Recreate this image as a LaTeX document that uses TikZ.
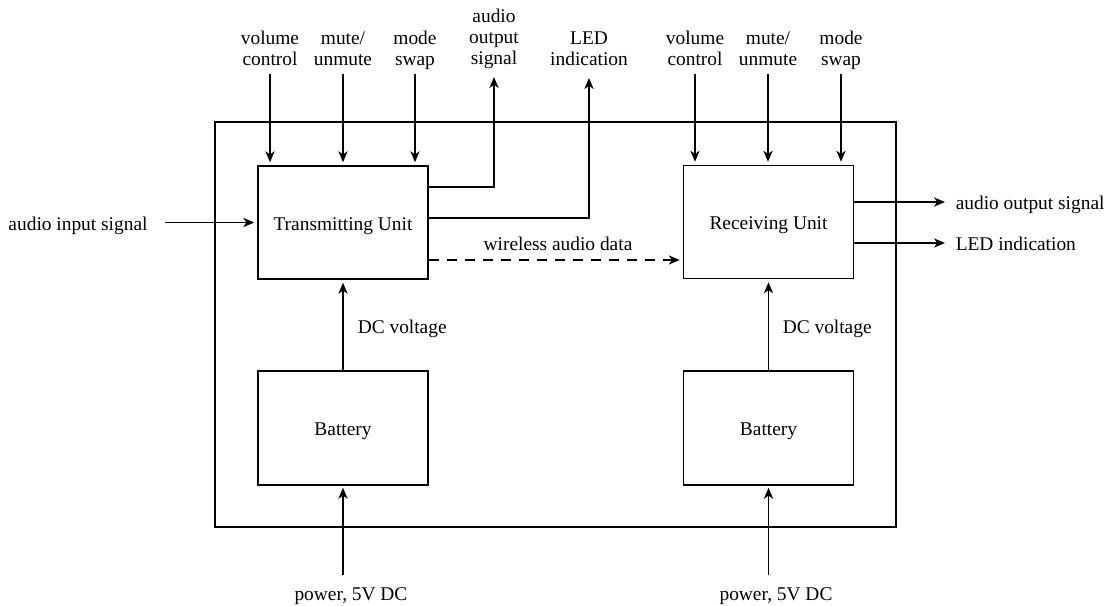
\documentclass[tikz,border=0pt]{standalone}
\usepackage{fontspec}
\setmainfont{Liberation Serif}
\usetikzlibrary{arrows.meta}
\begin{document}
\begin{tikzpicture}[x=0.5pt,y=-0.5pt,
  every path/.style={line width=0.75pt},
  unitbox/.style={draw, line width=0.75pt, minimum width=85pt, minimum height=56.5pt, inner sep=0pt,
    text height=7.6pt, text depth=0pt, font=\fontsize{9.7}{10.5}\selectfont},
  lbl/.style={inner sep=0pt, align=center, text depth=0pt, font=\fontsize{9.7}{10.5}\selectfont},
  conn/.style={line width=0.75pt, -{Stealth[length=5.5pt,width=4.6pt,inset=1.6pt]}},
  dconn/.style={conn, dash pattern=on 5pt off 4pt}]
\useasboundingbox (0,0) rectangle (1107,605);
% outer frame
\draw (215,122) rectangle (896,527);
% boxes
\node[unitbox] (tx) at (343,222.5) {Transmitting Unit};
\node[unitbox] (rx) at (768.5,222) {Receiving Unit};
\node[unitbox, minimum height=57pt] (btx) at (343,428) {Battery};
\node[unitbox, minimum height=57pt] (brx) at (768.5,428) {Battery};
% top labels TX
\node[lbl, anchor=south] (vc1) at (270,66) {volume\\control};
\node[lbl, anchor=south] (mu1) at (343,66) {mute/\\unmute};
\node[lbl, anchor=south] (ms1) at (415,66) {mode\\swap};
\node[lbl, anchor=south] (aos1) at (494,65) {audio\\output\\signal};
\node[lbl, anchor=south] (led1) at (589,66) {LED\\indication};
% top labels RX
\node[lbl, anchor=south] (vc2) at (695,66) {volume\\control};
\node[lbl, anchor=south] (mu2) at (768,66) {mute/\\unmute};
\node[lbl, anchor=south] (ms2) at (841,66) {mode\\swap};
% left input
\node[lbl, anchor=base] (ain) at (78,230) {audio input signal};
% right outputs
\node[lbl, anchor=base west] (aos2) at (955,209) {audio output signal};
\node[lbl, anchor=base west] (led2) at (955,250) {LED indication};
% middle labels
\node[lbl, anchor=base] (wad) at (558,250) {wireless audio data};
\node[lbl, anchor=base west] (dc1) at (357,333) {DC voltage};
\node[lbl, anchor=base west] (dc2) at (782,333) {DC voltage};
% bottom labels
\node[lbl, anchor=base] (pw1) at (351,600) {power, 5V DC};
\node[lbl, anchor=base] (pw2) at (776,600) {power, 5V DC};
% control arrows
\foreach \n in {vc1,mu1,ms1}{
  \draw[conn, shorten <=4pt, shorten >=1.5pt] (\n.south) -- (\n.south |- tx.north);
}
\foreach \n in {vc2,mu2,ms2}{
  \draw[conn, shorten <=4pt, shorten >=1.5pt] (\n.south) -- (\n.south |- rx.north);
}
% TX outputs going up
\draw[conn, shorten >=6pt] ([yshift=17.75pt]tx.east) -| (aos1.south);
\draw[conn, shorten >=6pt] ([yshift=2.25pt]tx.east) -| (led1.south);
% audio input
\draw[conn, shorten <=8.5pt, shorten >=1.5pt] (ain.east |- tx.west) -- (tx.west);
% wireless
\draw[dconn, shorten >=1.5pt] ([yshift=-18.75pt]tx.east) -- ([yshift=-18.75pt]tx.east -| rx.west);
% RX outputs
\draw[conn, shorten >=5pt] ([yshift=10pt]rx.east) -- ([yshift=10pt]rx.east -| aos2.west);
\draw[conn, shorten >=5pt] ([yshift=-10.5pt]rx.east) -- ([yshift=-10.5pt]rx.east -| led2.west);
% DC voltage
\draw[conn, shorten >=1.5pt] (btx.north) -- (tx.south);
\draw[conn, shorten >=1.5pt] (brx.north) -- (rx.south);
% power
\draw[conn, shorten <=5.5pt, shorten >=1pt] (pw1.north -| btx.south) -- (btx.south);
\draw[conn, shorten <=5.5pt, shorten >=1pt] (pw2.north -| brx.south) -- (brx.south);
\end{tikzpicture}
\end{document}
